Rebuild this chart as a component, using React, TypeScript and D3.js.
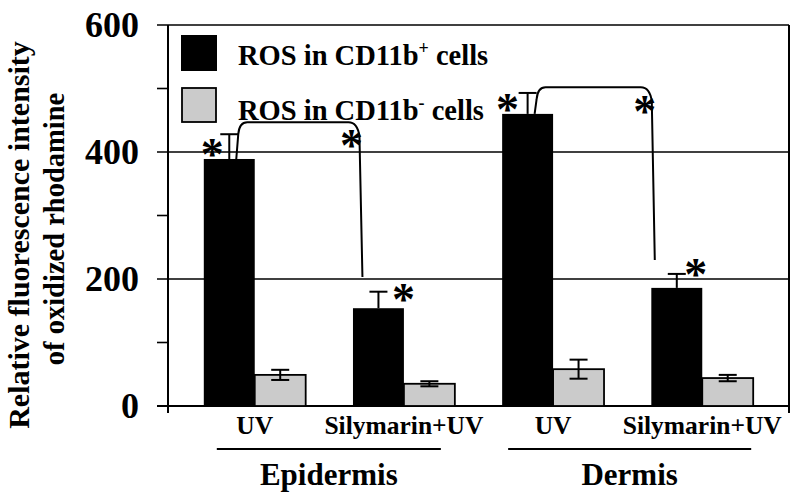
import React from "react";
import * as d3 from "d3";

const groups = ["Epidermis", "Dermis"];
const categories = ["epi-UV", "epi-SilyUV", "der-UV", "der-SilyUV"];
const categoryLabels = ["UV", "Silymarin+UV", "UV", "Silymarin+UV"];
const categoryGroup = ["Epidermis", "Epidermis", "Dermis", "Dermis"];
const seriesKeys = ["plus", "minus"];
const plusValues = [389, 154, 460, 186];
const plusErrors = [39, 26, 33, 22];
const minusValues = [49, 35, 58, 44];
const minusErrors = [8, 4, 15, 5];
const yTicksMajor = [0, 200, 400, 600];
const yTicksMinor = [100, 300, 500];
// significance brackets: from UV bar (plus) to Silymarin+UV bar (plus)
const bracketFrom = [0, 2];
const bracketTo = [1, 3];
const bracketTopValues = [447, 502];
const bracketEndValues = [203, 230];

const W = 800;
const H = 500;
const left = 168;
const right = 789;
const top = 25;
const bottom = 406;

export default function App() {
  const y = d3.scaleLinear().domain([0, 600]).range([bottom, top]);
  const x = d3
    .scaleBand<string>()
    .domain(categories)
    .range([left, right])
    .paddingInner(0.317)
    .paddingOuter(0.24);
  const xs = d3.scaleBand<string>().domain(seriesKeys).range([0, x.bandwidth()]);
  const bw = xs.bandwidth();
  const font = "'Liberation Serif', 'Times New Roman', serif";
  const starSize = 46;

  const series = [
    { key: "plus", values: plusValues, errors: plusErrors, fill: "#000000" },
    { key: "minus", values: minusValues, errors: minusErrors, fill: "#cbcbcb" },
  ];

  const star = (cx: number, cy: number, k: string) => (
    <text
      key={k}
      x={cx}
      y={cy + 0.48 * starSize}
      fontFamily={font}
      fontWeight="bold"
      fontSize={starSize}
      textAnchor="middle"
    >
      *
    </text>
  );

  const barCenter = (i: number, s: string) => (x(categories[i]) as number) + (xs(s) as number) + bw / 2;

  return (
    <svg width={W} height={H} style={{ position: "absolute", left: 0, top: 0, background: "#fff" }}>
      <rect x={0} y={0} width={W} height={H} fill="#fff" />
      {/* gridlines / major tick lines */}
      {yTicksMajor.map((t) => (
        <line key={"g" + t} x1={157} x2={right} y1={y(t)} y2={y(t)} stroke="#000" strokeWidth={t === 0 ? 2 : 1.6} />
      ))}
      {yTicksMinor.map((t) => (
        <line key={"m" + t} x1={157} x2={left} y1={y(t)} y2={y(t)} stroke="#000" strokeWidth={1.6} />
      ))}
      {/* left axis and right border */}
      <line x1={left} x2={left} y1={top} y2={bottom + 7} stroke="#000" strokeWidth={2} />
      <line x1={right} x2={right} y1={top} y2={bottom + 7} stroke="#000" strokeWidth={2} />
      {/* tick labels */}
      {yTicksMajor.map((t) => (
        <text
          key={"tl" + t}
          x={139}
          y={y(t) + 12}
          textAnchor="end"
          fontFamily={font}
          fontWeight="bold"
          fontSize={36}
        >
          {t}
        </text>
      ))}
      {/* bars */}
      {series.map((s) =>
        s.values.map((v, i) => {
          const bx = (x(categories[i]) as number) + (xs(s.key) as number);
          return (
            <rect
              key={s.key + i}
              x={bx}
              y={y(v)}
              width={bw}
              height={y(0) - y(v)}
              fill={s.fill}
              stroke="#000"
              strokeWidth={s.key === "minus" ? 1.8 : 0}
            />
          );
        })
      )}
      {/* error bars */}
      {series.map((s) =>
        s.values.map((v, i) => {
          const cx = barCenter(i, s.key);
          const hi = y(v + s.errors[i]);
          const lo = y(v - s.errors[i]);
          const cw = 9;
          return (
            <g key={"e" + s.key + i} stroke="#000" strokeWidth={2}>
              <line x1={cx} x2={cx} y1={hi} y2={s.key === "plus" ? y(v) : lo} />
              <line x1={cx - cw} x2={cx + cw} y1={hi} y2={hi} />
              {s.key === "minus" && <line x1={cx - cw} x2={cx + cw} y1={lo} y2={lo} />}
            </g>
          );
        })
      )}
      {/* brackets */}
      {bracketFrom.map((fi, k) => {
        const ti = bracketTo[k];
        const x1 = barCenter(fi, "plus") + 7;
        const yb = y(plusValues[fi]);
        const yt = y(bracketTopValues[k]);
        const x2 = barCenter(ti, "plus") - (k === 0 ? 16 : 22);
        const x2t = x2 - 8;
        const ye = y(bracketEndValues[k]);
        const d = `M${x1},${yb} L${x1 + 2},${yt + 12} Q${x1 + 3},${yt} ${x1 + 11},${yt} L${x2t - 6},${yt} Q${x2t + 3},${yt} ${x2t + 5},${yt + 14} L${x2},${ye}`;
        return <path key={"b" + k} d={d} fill="none" stroke="#000" strokeWidth={2} />;
      })}
      {/* asterisks */}
      {star(barCenter(0, "plus") - 17, y(plusValues[0]) - 11, "s0")}
      {star(barCenter(1, "plus") - 27, y(bracketTopValues[0]) + 17, "s1")}
      {star(barCenter(1, "plus") + 25, y(plusValues[1] + plusErrors[1]) + 1, "s2")}
      {star(barCenter(2, "plus") - 20, y(plusValues[2]) - 11, "s3")}
      {star(barCenter(3, "plus") - 32, y(bracketTopValues[1]) + 18, "s4")}
      {star(barCenter(3, "plus") + 19, y(plusValues[3] + plusErrors[3]) - 6, "s5")}
      {/* legend */}
      <rect x={181} y={35} width={36} height={36} fill="#000" />
      <rect x={182} y={88} width={34} height={34} fill="#cbcbcb" stroke="#000" strokeWidth={1.8} />
      <text x={238} y={65} fontFamily={font} fontWeight="bold" fontSize={28.5}>
        ROS in CD11b<tspan fontSize={18} dy={-11}>+</tspan>
        <tspan dy={11}> cells</tspan>
      </text>
      <text x={238} y={120} fontFamily={font} fontWeight="bold" fontSize={28.5}>
        ROS in CD11b<tspan fontSize={18} dy={-11}>-</tspan>
        <tspan dy={11}> cells</tspan>
      </text>
      {/* category labels */}
      {categories.map((c, i) => (
        <text
          key={"c" + c}
          x={(x(c) as number) + x.bandwidth() / 2}
          y={434}
          textAnchor="middle"
          fontFamily={font}
          fontWeight="bold"
          fontSize={25.5}
        >
          {categoryLabels[i]}
        </text>
      ))}
      {/* group lines and labels */}
      {groups.map((g, gi) => {
        const idx = categories.filter((_, i) => categoryGroup[i] === g).map((c) => x(c) as number);
        const gx1 = d3.min(idx)! + (gi === 0 ? 13 : 6);
        const gx2 = d3.max(idx)! + x.bandwidth() - (gi === 0 ? 14 : 2);
        return (
          <g key={"grp" + g}>
            <line x1={gx1} x2={gx2} y1={449} y2={449} stroke="#000" strokeWidth={2} />
            <text
              x={(gx1 + gx2) / 2}
              y={485}
              textAnchor="middle"
              fontFamily={font}
              fontWeight="bold"
              fontSize={31}
            >
              {g}
            </text>
          </g>
        );
      })}
      {/* y axis title */}
      <text
        transform="translate(29,235) rotate(-90)"
        textAnchor="middle"
        fontFamily={font}
        fontWeight="bold"
        fontSize={30}
      >
        Relative fluorescence intensity
      </text>
      <text
        transform="translate(64,229) rotate(-90)"
        textAnchor="middle"
        fontFamily={font}
        fontWeight="bold"
        fontSize={28.5}
      >
        of oxidized rhodamine
      </text>
    </svg>
  );
}
